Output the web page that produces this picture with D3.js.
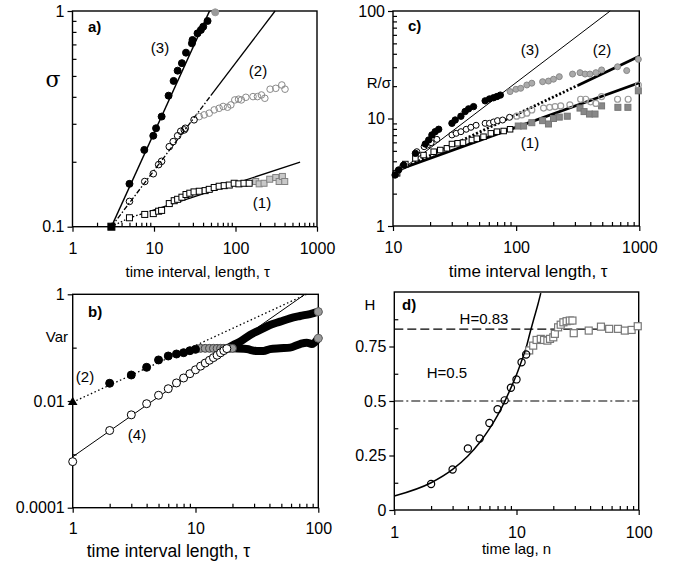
<!DOCTYPE html>
<html>
<head>
<meta charset="utf-8">
<script src="https://cdn.jsdelivr.net/npm/d3@7.9.0/dist/d3.min.js"></script>
<style>
  body { margin: 0; background: #fff; }
  text { font-family: "Liberation Sans", Arial, sans-serif; fill: #000; }
</style>
</head>
<body>
<script>
// ---- panel a) sigma vs tau ----
const aTau3 = [5, 7.6, 9.8, 10.6, 12.4, 15.1, 17.4, 19.5, 22, 24.7, 29.2, 29.7, 34.2, 37.6, 40.2, 45.4];
const aSig3 = [0.158, 0.227, 0.264, 0.286, 0.324, 0.405, 0.474, 0.529, 0.573, 0.641, 0.708, 0.734, 0.788, 0.817, 0.846, 0.899];
const aTau3g = [56.4];
const aSig3g = [0.986];
const aTau2 = [5, 7.7, 9.8, 11.4, 12.4, 15.4, 17.2, 19.5, 21.3, 23.5, 24.2, 31];
const aSig2 = [0.131, 0.162, 0.176, 0.194, 0.201, 0.235, 0.248, 0.264, 0.277, 0.281, 0.286, 0.313];
const aTau2g = [35.9, 41.3, 47.6, 54.8, 63, 70.6, 79.8, 87.7, 98, 109, 118, 134, 164, 186, 208, 229, 266, 312, 370, 405];
const aSig2g = [0.324, 0.33, 0.336, 0.348, 0.354, 0.361, 0.358, 0.367, 0.387, 0.39, 0.387, 0.398, 0.401, 0.401, 0.408, 0.394, 0.434, 0.438, 0.454, 0.434];
const aTau1 = [5, 7.7, 9.8, 11.4, 12.4, 15.4, 17.7, 19.5, 22, 24.7, 27.5, 31, 35.9, 42.4, 47.6, 54.8, 63, 72.6, 83.8, 96.4, 110, 127, 147];
const aSig1 = [0.11, 0.114, 0.115, 0.118, 0.119, 0.128, 0.132, 0.134, 0.137, 0.141, 0.143, 0.145, 0.146, 0.147, 0.149, 0.152, 0.154, 0.155, 0.156, 0.159, 0.158, 0.159, 0.159];
const aTau1g = [177, 195, 224, 263, 312, 343, 376, 402];
const aSig1g = [0.162, 0.158, 0.159, 0.166, 0.169, 0.162, 0.171, 0.162];
const aStart = [3, 0.1];
const aFit3 = [[3, 0.1], [48, 1]];
const aFit2a = [[3, 0.1], [50, 0.406]];
const aFit2b = [[50, 0.406], [306, 1]];
const aFit1a = [[3, 0.1], [5, 0.11]];
const aFit1b = [[5, 0.11], [9, 0.118]];
const aFit1c = [[9, 0.118], [620, 0.199]];

// ---- panel c) R/sigma vs tau ----
const cTau3 = [10.4, 11.1, 12.2, 15.2, 18.3, 19.5, 20.7, 22, 23.5, 30.1, 32, 35.6, 38.5, 41.1, 45.1, 56, 60.7, 65.5, 69.8, 74.4];
const cRs3 = [2.98, 3.32, 3.69, 4.74, 5.79, 6.31, 7.03, 7.54, 7.94, 9.02, 9.68, 10.5, 11.6, 12.3, 12.9, 14.6, 15.2, 15.6, 16, 16.5];
const cTau3g = [89.3, 99.5, 108.9, 122, 134, 164, 183, 201, 224, 287, 330, 363, 397, 444, 494, 666, 790, 982];
const cRs3g = [17.8, 18.7, 19.1, 20.5, 21.3, 22, 22.3, 23.2, 24.5, 25.9, 26.7, 25.9, 25.9, 26.7, 28.3, 30.3, 27.9, 35.5];
const cTau2 = [10.6, 12, 15.6, 17.9, 19.1, 20.4, 22.7, 30.1, 32.6, 35.6, 39.3, 42.9, 47.3, 56, 60.7, 65.5, 70.6, 77.6, 88.4];
const cRs2 = [3.1, 3.6, 4.91, 5.47, 5.67, 5.96, 6.4, 7.03, 7.28, 7.54, 7.94, 8.28, 8.65, 9.02, 9.02, 9.28, 9.55, 9.68, 10.26];
const cTau2g = [101, 111, 122, 134, 167, 187, 207, 230, 273, 334, 367, 402, 444, 494, 666, 812, 982];
const cRs2g = [10.5, 10.8, 11.2, 12, 12.5, 12.7, 12.9, 13.1, 13.4, 15.1, 15.1, 14.3, 13.8, 16, 15.1, 15.1, 20.5];
const cTau1 = [10.8, 12.6, 15.2, 17.7, 21.4, 24.2, 27.4, 30.1, 33.5, 37, 43.7, 47.9, 54.3, 62.3, 69.8, 79.2, 89.3];
const cRs1 = [3.09, 3.77, 4.26, 4.57, 4.91, 5.09, 5.28, 5.79, 5.88, 5.96, 6.31, 6.49, 6.77, 7.28, 7.54, 7.65, 7.94];
const cTau1g = [104, 115, 134, 164, 183, 201, 224, 260, 330, 356, 394, 437, 494, 670, 808, 982];
const cRs1g = [8.51, 8.51, 9.14, 9.55, 8.89, 10, 10.3, 10.5, 12.5, 11.6, 11, 11, 13.1, 12.7, 12.7, 18.1];
const cFit3 = [[10, 2.9], [580, 100]];
const cFit2a = [[10, 3.1], [316, 20.3]];
const cFit2b = [[316, 20.3], [1000, 38]];
const cFit1 = [[10, 3.2], [1000, 21.5]];

// ---- panel b) Var vs tau ----
const bTau4 = [1, 2, 3, 4, 5, 6, 7, 8, 9, 10, 11, 12, 13, 14, 15, 16, 17, 18];
const bVar4 = [0.00073, 0.0028, 0.0055, 0.0089, 0.0128, 0.017, 0.0218, 0.027, 0.0325, 0.0385, 0.045, 0.0515, 0.058, 0.065, 0.072, 0.08, 0.088, 0.096];
const bDense4T = [18, 20.3, 23, 27.8, 33.5, 40.4, 48.8, 58.9, 71, 85.6, 100];
const bDense4V = [0.096, 0.112, 0.129, 0.173, 0.214, 0.266, 0.307, 0.355, 0.392, 0.427, 0.472];
const bTau2 = [2, 3, 4, 5, 6, 7, 8, 9, 10];
const bVar2 = [0.0215, 0.0307, 0.0428, 0.0588, 0.0697, 0.076, 0.0805, 0.0877, 0.093];
const bTau2g = [11, 12, 13, 14, 15, 16, 17, 18, 19, 20];
const bVar2g = [0.097, 0.097, 0.097, 0.097, 0.097, 0.097, 0.097, 0.097, 0.097, 0.097];
const bDense2T = [20.3, 26.1, 31.5, 35.7, 40.4, 48.8, 58.9, 71, 80.5, 88.5, 100];
const bDense2V = [0.097, 0.094, 0.0865, 0.0865, 0.094, 0.0973, 0.1, 0.117, 0.124, 0.117, 0.15];
const bStart2 = [1, 0.0095];
const bFit4 = [[1, 0.0009], [78, 1]];
const bFit2 = [[1, 0.0095], [80, 1]];

// ---- panel d) H vs time lag ----
const dLag = [2, 3, 4, 5, 6, 7, 8, 9, 10, 11, 12];
const dH = [0.119, 0.186, 0.282, 0.328, 0.399, 0.462, 0.503, 0.561, 0.599, 0.678, 0.713];
const dLagG = [12.7, 13.7, 14.6, 15.8, 16.8, 17.9, 18.8, 20, 20.6, 21.9, 23, 24.2, 25.7, 27.3, 28.7, 29.4, 39, 49.1, 57.3, 67.7, 77, 87.5, 98.2];
const dHG = [0.732, 0.754, 0.78, 0.785, 0.78, 0.777, 0.785, 0.792, 0.808, 0.838, 0.85, 0.861, 0.866, 0.869, 0.869, 0.811, 0.823, 0.841, 0.831, 0.831, 0.823, 0.826, 0.843];
const dCurveN = [1, 2, 3, 4, 5, 6, 7, 8, 9, 10, 11, 12, 13, 14, 15, 15.8];
const dCurveH = [0.064, 0.125, 0.186, 0.248, 0.31, 0.372, 0.434, 0.497, 0.56, 0.62, 0.683, 0.745, 0.82, 0.885, 0.945, 0.995];
const dRef = [0.83, 0.5];

const FONT = '"Liberation Sans", Arial, sans-serif';
const GREY = '#9a9a9a';
const TICK_FS = 16;

let svg = d3.select('body').append('svg').attr('width', 674).attr('height', 565);

function zip(xs, ys) { return xs.map((v, i) => [v, ys[i]]); }

// frame + ticks for one panel
function frame(x, y, opt) {
  let g = svg.append('g');
  let [x0, x1] = x.range();
  let [y0, y1] = y.range();
  let bottom = g.append('g').attr('transform', `translate(0,${y0})`)
    .call(d3.axisBottom(x).tickValues(opt.xMajor).tickSize(5).tickPadding(4).tickFormat(opt.xFmt || (d => d)));
  bottom.select('.domain').remove();
  bottom.selectAll('text').attr('y', opt.xLabY || 27).attr('dy', null).attr('font-size', TICK_FS).attr('font-family', FONT);
  if (opt.xMinor) {
    let m = g.append('g').attr('transform', `translate(0,${y0})`)
      .call(d3.axisBottom(x).tickValues(opt.xMinor).tickSize(-4).tickFormat(''));
    m.select('.domain').remove();
  }
  let left = g.append('g').attr('transform', `translate(${x0},0)`)
    .call(d3.axisLeft(y).tickValues(opt.yMajor).tickSize(5).tickPadding(3).tickFormat(opt.yFmt || (d => d)));
  left.select('.domain').remove();
  left.selectAll('text').attr('font-size', TICK_FS).attr('font-family', FONT);
  if (opt.yMinor) {
    let m = g.append('g').attr('transform', `translate(${x0},0)`)
      .call(d3.axisLeft(y).tickValues(opt.yMinor).tickSize(-4).tickFormat(''));
    m.select('.domain').remove();
  }
  g.selectAll('.tick line').attr('stroke', '#000').attr('stroke-width', 1.2);
  g.append('rect').attr('x', x0).attr('y', y1).attr('width', x1 - x0).attr('height', y0 - y1)
    .attr('fill', 'none').attr('stroke', '#000').attr('stroke-width', 1.4);
  g.append('text').attr('x', (x0 + x1) / 2 + (opt.titleDx || 0)).attr('y', opt.titleY)
    .attr('text-anchor', 'middle').attr('font-size', opt.titleSize || 15).text(opt.title);
  return g;
}

function minorLog(lo, hi) {
  return d3.scaleLog().domain([lo, hi]).ticks().filter(v => {
    let m = v / Math.pow(10, Math.floor(Math.log10(v) + 1e-9));
    return Math.round(m) !== 1;
  });
}

function plotLine(x, y, pts, w, dash) {
  let line = d3.line().x(d => x(d[0])).y(d => y(d[1]));
  svg.append('path').datum(pts).attr('d', line).attr('fill', 'none')
    .attr('stroke', '#000').attr('stroke-width', w).attr('stroke-dasharray', dash || null);
}

function circles(x, y, pts, r, fill, stroke, sw) {
  svg.append('g').selectAll('circle').data(pts).join('circle')
    .attr('cx', d => x(d[0])).attr('cy', d => y(d[1])).attr('r', r)
    .attr('fill', fill).attr('stroke', stroke).attr('stroke-width', sw || 1);
}

function squares(x, y, pts, s, fill, stroke, sw) {
  svg.append('g').selectAll('rect').data(pts).join('rect')
    .attr('x', d => x(d[0]) - s / 2).attr('y', d => y(d[1]) - s / 2).attr('width', s).attr('height', s)
    .attr('fill', fill).attr('stroke', stroke).attr('stroke-width', sw || 1);
}

function label(px, py, txt, opt) {
  opt = opt || {};
  svg.append('text').attr('x', px).attr('y', py).attr('text-anchor', opt.anchor || 'middle')
    .attr('font-size', opt.size || 15).attr('font-weight', opt.bold ? 'bold' : null)
    .style('font-family', opt.family || FONT).text(txt);
}

// ================= panel a =================
{
  let x = d3.scaleLog().domain([1, 1000]).range([72.5, 317]);
  let y = d3.scaleLog().domain([0.1, 1]).range([226.7, 11]);
  frame(x, y, {
    xMajor: [1, 10, 100, 1000], xMinor: minorLog(1, 1000),
    yMajor: [0.1, 1], yMinor: minorLog(0.1, 1),
    title: 'time interval, length, \u03c4', titleY: 277, titleDx: 3
  });
  plotLine(x, y, aFit3, 1.5);
  plotLine(x, y, aFit2a, 1.3, '5,2,1.5,2');
  plotLine(x, y, aFit2b, 1.3);
  plotLine(x, y, aFit1a, 1.3, '1.5,2');
  plotLine(x, y, aFit1b, 1.3, '5,2,1.5,2');
  plotLine(x, y, aFit1c, 1.3);
  squares(x, y, zip(aTau1g, aSig1g), 6, '#c8c8c8', '#808080');
  squares(x, y, zip(aTau1, aSig1), 6, '#fff', '#000');
  circles(x, y, zip(aTau2g, aSig2g), 3.3, 'none', '#8a8a8a');
  circles(x, y, zip(aTau2, aSig2), 3.3, 'none', '#000');
  circles(x, y, zip(aTau3, aSig3), 3.5, '#000', '#000');
  circles(x, y, zip(aTau3g, aSig3g), 3.5, GREY, GREY);
  squares(x, y, [aStart], 7, '#000', '#000');
  label(88, 32, 'a)', { anchor: 'start', bold: true });
  label(160, 53, '(3)');
  label(258, 76, '(2)');
  label(262, 208, '(1)');
  label(53, 87, '\u03c3', { size: 22, family: '"DejaVu Serif", serif' });
}

// ================= panel c =================
{
  let x = d3.scaleLog().domain([10, 1000]).range([393, 639.3]);
  let y = d3.scaleLog().domain([1, 100]).range([226, 11]);
  frame(x, y, {
    xMajor: [10, 100, 1000], xMinor: minorLog(10, 1000),
    yMajor: [1, 10, 100], yMinor: minorLog(1, 100),
    title: 'time interval length, \u03c4', titleY: 277, titleDx: 12, titleSize: 17
  });
  plotLine(x, y, cFit3, 1);
  plotLine(x, y, cFit2a, 2.8, '2,2');
  plotLine(x, y, cFit2b, 2.8);
  plotLine(x, y, cFit1, 2.8);
  squares(x, y, zip(cTau1g, cRs1g), 6, '#888', '#777');
  circles(x, y, zip(cTau2g, cRs2g), 3, 'none', '#999', 1.2);
  circles(x, y, zip(cTau3g, cRs3g), 3, '#aaa', '#888');
  squares(x, y, zip(cTau1, cRs1), 5.5, '#fff', '#000');
  circles(x, y, zip(cTau2, cRs2), 3, '#fff', '#000');
  circles(x, y, zip(cTau3, cRs3), 3.2, '#000', '#000');
  label(408, 31, 'c)', { anchor: 'start', bold: true });
  label(530, 55, '(3)');
  label(602, 55, '(2)');
  label(530, 148, '(1)');
  label(391, 88, 'R/\u03c3', { anchor: 'end' });
}

// ================= panel b =================
{
  let x = d3.scaleLog().domain([1, 100]).range([72.7, 318.3]);
  let y = d3.scaleLog().domain([0.0001, 1]).range([507.7, 294.3]);
  frame(x, y, {
    xMajor: [1, 10, 100], xMinor: minorLog(1, 100),
    yMajor: [0.0001, 0.01, 1], yMinor: [0.001, 0.1],
    yFmt: d => d === 1 ? '1' : (d === 0.01 ? '0.01' : '0.0001'),
    title: 'time interval length, \u03c4', titleY: 557, titleDx: -27, titleSize: 17.5, xLabY: 26
  });
  plotLine(x, y, bFit4, 1);
  plotLine(x, y, bFit2, 1.3, '1.5,2.5');
  let line = d3.line().x(d => x(d[0])).y(d => y(d[1])).curve(d3.curveMonotoneX);
  svg.append('path').datum(zip(bDense4T, bDense4V)).attr('d', line)
    .attr('fill', 'none').attr('stroke', '#000').attr('stroke-width', 8).attr('stroke-linecap', 'round');
  svg.append('path').datum(zip(bDense2T, bDense2V)).attr('d', line)
    .attr('fill', 'none').attr('stroke', '#000').attr('stroke-width', 8).attr('stroke-linecap', 'round');
  circles(x, y, zip(bTau2g, bVar2g), 4, GREY, '#444');
  circles(x, y, zip(bTau4, bVar4), 4, '#fff', '#000');
  circles(x, y, zip(bTau2, bVar2), 4, '#000', '#000');
  circles(x, y, [[100, bDense4V[bDense4V.length - 1]], [100, bDense2V[bDense2V.length - 1]]], 4, GREY, '#666');
  svg.append('path').attr('d', d3.symbol(d3.symbolTriangle, 40)())
    .attr('transform', `translate(${x(bStart2[0])},${y(bStart2[1])})`).attr('fill', '#000');
  label(88, 317, 'b)', { anchor: 'start', bold: true });
  label(85, 382, '(2)');
  label(137, 440, '(4)');
  label(68, 342, 'Var', { anchor: 'end' });
}

// ================= panel d =================
{
  let x = d3.scaleLog().domain([1, 100]).range([394.3, 638.7]);
  let y = d3.scaleLinear().domain([0, 1]).range([510, 292]);
  frame(x, y, {
    xMajor: [1, 10, 100], xMinor: minorLog(1, 100),
    yMajor: [0, 0.25, 0.5, 0.75], yMinor: [0.125, 0.375, 0.625, 0.875],
    title: 'time lag, n', titleY: 554, xLabY: 28
  });
  svg.append('g').selectAll('line').data(dRef).join('line')
    .attr('x1', x(1)).attr('x2', x(100)).attr('y1', d => y(d)).attr('y2', d => y(d))
    .attr('stroke', '#000').attr('stroke-width', 1.2)
    .attr('stroke-dasharray', (d, i) => i === 0 ? '9,4' : '9,3,2,3');
  let line = d3.line().x(d => x(d[0])).y(d => y(d[1])).curve(d3.curveMonotoneX);
  svg.append('path').datum(zip(dCurveN, dCurveH)).attr('d', line)
    .attr('fill', 'none').attr('stroke', '#000').attr('stroke-width', 1.5);
  squares(x, y, zip(dLagG, dHG), 7, '#fff', '#777', 1.2);
  circles(x, y, zip(dLag, dH), 3.6, 'none', '#000', 1.2);
  label(402, 310, 'd)', { anchor: 'start', bold: true });
  label(370, 310, 'H');
  label(484, 324, 'H=0.83');
  label(447, 378, 'H=0.5');
}
</script>
</body>
</html>
